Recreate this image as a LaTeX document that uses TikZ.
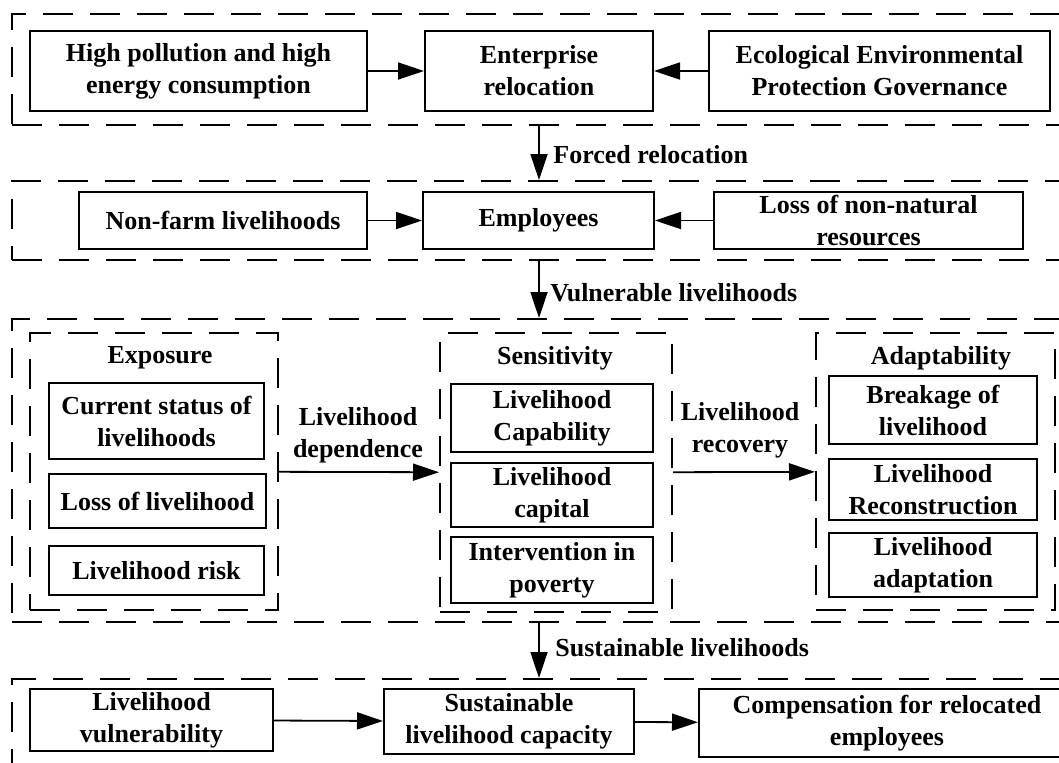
\documentclass[tikz,border=0pt]{standalone}
\usepackage{fontspec}
\setmainfont{Liberation Serif}
\usetikzlibrary{arrows.meta}
\begin{document}
\begin{tikzpicture}[x=0.5pt, y=-0.5pt, line join=miter,
  font=\fontsize{13}{16}\selectfont\bfseries,
  box/.style={draw, line width=1pt, inner sep=0pt, align=center},
  frame/.style={draw, line width=1pt, inner sep=0pt, dash pattern=on 15pt off 8.5pt},
  link/.style={line width=0.9pt, -{Triangle[length=13pt, width=8.5pt]}},
  lbl/.style={inner sep=0pt, align=center}]
  \useasboundingbox (0,0) rectangle (1059,762);
  \clip (0,0) rectangle (1059,762);
  % section frames
  \node[frame, minimum width=528pt, minimum height=55.5pt] (sec1) at (540,69.5) {};
  \node[frame, minimum width=528pt, minimum height=39.5pt] (sec2) at (540,220.5) {};
  \node[frame, minimum width=528pt, minimum height=151.5pt] (sec3) at (540,470.5) {};
  \node[frame, minimum width=528pt, minimum height=60.5pt] (sec4) at (540,739.5) {};
  \node[frame, minimum width=124pt, minimum height=138.5pt] (expo) at (154,471.5) {};
  \node[frame, minimum width=116pt, minimum height=139.5pt] (sens) at (556,472.5) {};
  \node[frame, minimum width=119.5pt, minimum height=138.5pt] (adapt) at (935.5,471.5) {};
  % row 1
  \node[box, minimum width=168.5pt, minimum height=40pt] (pol) at (198.5,71) {High pollution and high\\energy consumption};
  \node[box, minimum width=114pt, minimum height=40pt] (ent) at (539,71) {Enterprise\\relocation};
  \node[box, minimum width=170.5pt, minimum height=40pt] (eco) at (879.5,71) {Ecological Environmental\\Protection Governance};
  \draw[link] (pol) -- (ent);
  \draw[link] (eco) -- (ent);
  % row 2
  \node[box, minimum width=144pt, minimum height=28.5pt] (nonfarm) at (223,220.5) {Non-farm livelihoods};
  \node[box, minimum width=115.5pt, minimum height=28.5pt] (emp) at (538.5,220.5) {Employees};
  \node[box, minimum width=154.5pt, minimum height=28.5pt] (lossnn) at (868.5,220.5) {Loss of non-natural\\resources};
  \draw[link] (nonfarm) -- (emp);
  \draw[link] (lossnn) -- (emp);
  % row 3: exposure
  \node[lbl] (expoT) at (160,358) {Exposure};
  \node[box, minimum width=107.5pt, minimum height=38pt] (cur) at (156.5,421) {Current status of\\livelihoods};
  \node[box, minimum width=108.5pt, minimum height=27pt] (loss) at (157.5,501) {Loss of livelihood};
  \node[box, minimum width=107.5pt, minimum height=24.5pt] (risk) at (156.5,570.5) {Livelihood risk};
  % sensitivity
  \node[lbl] (sensT) at (555,358) {Sensitivity};
  \node[box, minimum width=101pt, minimum height=34pt] (cap) at (552,418) {Livelihood\\Capability};
  \node[box, minimum width=101pt, minimum height=32pt] (capital) at (552,495) {Livelihood\\capital};
  \node[box, minimum width=101pt, minimum height=33pt] (pov) at (552,570) {Intervention in\\poverty};
  % adaptability
  \node[lbl] (adaptT) at (941,358) {Adaptability};
  \node[box, minimum width=104pt, minimum height=34pt] (brk) at (933,410) {Breakage of\\livelihood};
  \node[box, minimum width=104pt, minimum height=30.5pt] (rec) at (933,489.5) {Livelihood\\Reconstruction};
  \node[box, minimum width=104pt, minimum height=32pt] (adp) at (933,565) {Livelihood\\adaptation};
  \draw[link] (expo) -- (sens);
  \node[lbl] (depL) at (358,435) {Livelihood\\dependence};
  \draw[link] (sens) -- (adapt);
  \node[lbl] (recL) at (740,430) {Livelihood\\recovery};
  % row 4
  \node[box, minimum width=121.5pt, minimum height=31pt] (vul) at (151.5,720) {Livelihood\\vulnerability};
  \node[box, minimum width=125pt, minimum height=32.5pt] (sus) at (509,721.5) {Sustainable\\livelihood capacity};
  \node[box, minimum width=188pt, minimum height=34pt] (comp) at (887,723) {Compensation for relocated\\employees};
  \draw[link] (vul) -- (sus);
  \draw[link] (sus) -- (comp);
  % links between sections
  \draw[link] (sec1.south -| ent) -- (sec2.north -| ent);
  \node[lbl, anchor=west] (forcedL) at (553,155) {Forced relocation};
  \draw[link] (sec2.south -| ent) -- (sec3.north -| ent);
  \node[lbl, anchor=west] (vulL) at (550,293) {Vulnerable livelihoods};
  \draw[link] (sec3.south -| ent) -- (sec4.north -| ent);
  \node[lbl, anchor=west] (susL) at (555,648) {Sustainable livelihoods};
\end{tikzpicture}
\end{document}
